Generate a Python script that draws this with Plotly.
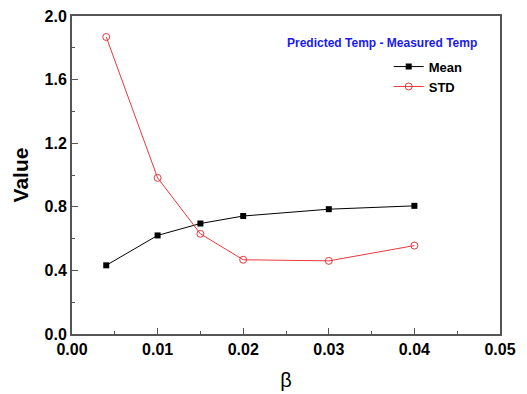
import plotly.graph_objects as go

beta = [0.004, 0.01, 0.015, 0.02, 0.03, 0.04]
mean_vals = [0.432, 0.620, 0.695, 0.742, 0.785, 0.806]
std_vals = [1.868, 0.982, 0.630, 0.467, 0.460, 0.556]

fig = go.Figure()
fig.add_trace(go.Scatter(x=beta, y=mean_vals, name="Mean", mode="lines+markers",
                         line=dict(color="black", width=1),
                         marker=dict(symbol="square", size=6, color="black")))
fig.add_trace(go.Scatter(x=beta, y=std_vals, name="STD", mode="lines+markers",
                         line=dict(color="#e8383b", width=1),
                         marker=dict(symbol="circle-open", size=7, color="#e8383b", line=dict(width=1))))

axis_common = dict(showline=True, linecolor="#555555", linewidth=2, mirror=True,
                   ticks="inside", tickcolor="#555555", tickwidth=1, ticklen=6,
                   showgrid=False, zeroline=False,
                   tickfont=dict(family="Liberation Sans", size=16, color="black", weight="bold"))

fig.update_xaxes(range=[0, 0.05], dtick=0.01, tickformat=".2f",
                 minor=dict(ticks="inside", ticklen=3, dtick=0.005, tickcolor="#555555"),
                 title=dict(text="β", font=dict(family="Liberation Sans", size=20, color="black"), standoff=16),
                 **axis_common)
fig.update_yaxes(range=[0, 2.0], dtick=0.4, tickformat=".1f",
                 minor=dict(ticks="inside", ticklen=3, dtick=0.2, tickcolor="#555555"),
                 title=dict(text="Value", font=dict(family="Liberation Sans", size=21, color="black", weight="bold"), standoff=10),
                 **axis_common)

fig.add_annotation(x=0.95, y=0.915, xref="paper", yref="paper", xanchor="right", yanchor="middle",
                   text="Predicted Temp - Measured Temp", showarrow=False,
                   font=dict(family="Liberation Sans", size=12, color="#1a1aee", weight="bold"))

fig.update_layout(
    width=527, height=394,
    margin=dict(l=72, r=27, t=16, b=60, autoexpand=False),
    paper_bgcolor="white", plot_bgcolor="white",
    showlegend=True,
    legend=dict(x=0.74, y=0.888, xanchor="left", yanchor="top", bgcolor="rgba(0,0,0,0)",
                font=dict(family="Liberation Sans", size=13, color="black", weight="bold"),
                tracegroupgap=0, itemwidth=30),
)

fig.write_html("out.html", config={"displayModeBar": False},
               post_script="document.body.style.margin='0';document.body.style.overflow='hidden';")
